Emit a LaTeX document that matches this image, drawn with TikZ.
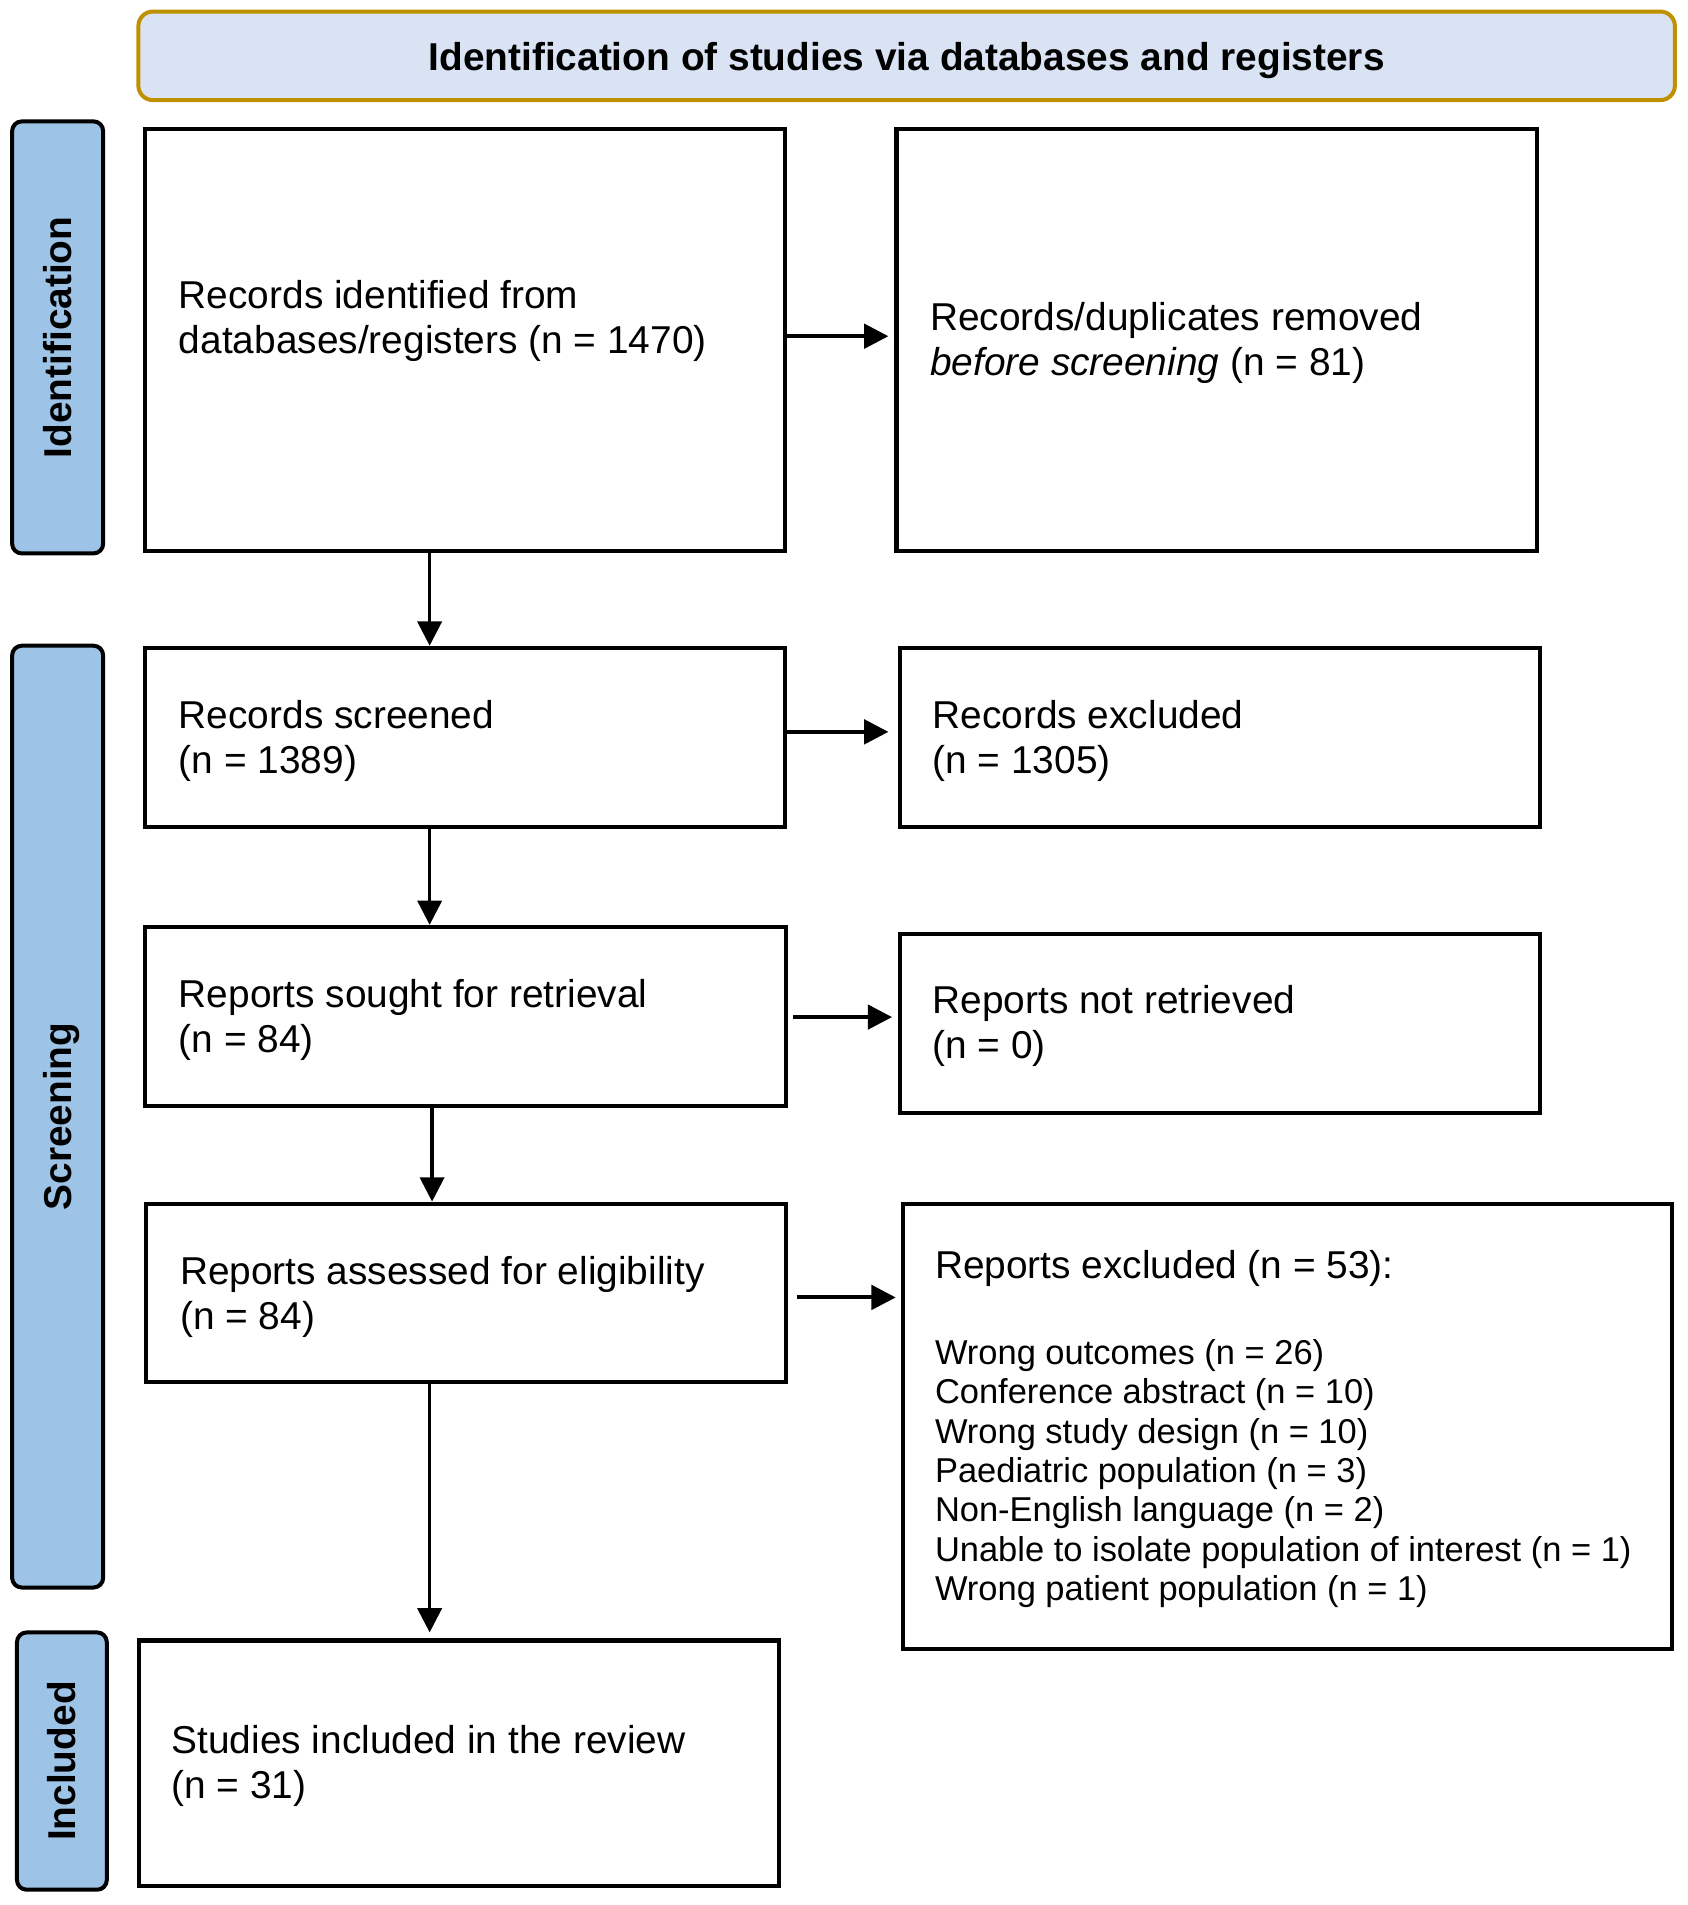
\documentclass[tikz,border=0pt]{standalone}
\usepackage{fontspec}
\setmainfont{Liberation Sans}
\usetikzlibrary{arrows.meta}
\definecolor{titlefill}{RGB}{218,227,243}
\definecolor{titledraw}{RGB}{191,144,0}
\definecolor{sidefill}{RGB}{157,195,230}
\begin{document}
\begin{tikzpicture}[x=0.5pt,y=-0.5pt,
  box/.style={draw, line width=1.65pt, inner sep=0pt, anchor=north west},
  sidebox/.style={draw, fill=sidefill, line width=1.65pt, rounded corners=4pt, inner sep=0pt, rotate=90,
    font=\fontsize{16}{18.5}\selectfont\bfseries, text height=11.5pt, text depth=0pt},
  titlebox/.style={draw=titledraw, fill=titlefill, line width=1.65pt, rounded corners=6pt, inner sep=0pt,
    font=\fontsize{16}{18.5}\selectfont\bfseries, text height=12pt, text depth=0pt},
  txt/.style={anchor=base west, inner sep=0pt, font=\fontsize{16}{18.5}\selectfont},
  smalltxt/.style={anchor=base west, inner sep=0pt, font=\fontsize{14.2}{16.25}\selectfont},
  harrow/.style={-{Triangle[length=10pt,width=10pt]}, line width=1.65pt},
  varrow/.style={-{Triangle[length=10pt,width=10pt]}, line width=1.3pt}
]
\useasboundingbox (0,0) rectangle (1390,1569.6);

% title
\node[titlebox, minimum width=633pt, minimum height=36.5pt] (title) at (747,46)
  {Identification of studies via databases and registers};

% side labels
\node[sidebox, minimum width=178pt, minimum height=37.5pt] (sideid) at (47.5,278) {Identification};
\node[sidebox, minimum width=388pt, minimum height=37.5pt] (sidesc) at (47.5,920) {Screening};
\node[sidebox, minimum width=106pt, minimum height=37pt] (sidein) at (51,1451) {Included};

% boxes
\node[box, minimum width=263.5pt, minimum height=173.5pt] (b1) at (118,105) {};
\node[box, minimum width=264pt, minimum height=173.5pt] (b2) at (737,105) {};
\node[box, minimum width=263.5pt, minimum height=74pt] (b3) at (118,532) {};
\node[box, minimum width=263.5pt, minimum height=74pt] (b4) at (740,532) {};
\node[box, minimum width=264pt, minimum height=74pt] (b5) at (118,762) {};
\node[box, minimum width=263.5pt, minimum height=73.5pt] (b6) at (740,768) {};
\node[box, minimum width=263.5pt, minimum height=73.5pt] (b7) at (119,990) {};
\node[box, minimum width=317pt, minimum height=183.5pt] (b8) at (742,990) {};
\node[box, minimum width=263.5pt, minimum height=101pt] (b9) at (113,1350) {};

% texts
\node[txt] (t1) at (147,254) {\parbox[t]{300pt}{Records identified from\\databases/registers (n = 1470)}};
\node[txt] (t2) at (766,272) {\parbox[t]{300pt}{Records/duplicates removed\\\textit{before screening} (n = 81)}};
\node[txt] (t3) at (147,600) {\parbox[t]{300pt}{Records screened\\(n = 1389)}};
\node[txt] (t4) at (768,600) {\parbox[t]{300pt}{Records excluded\\(n = 1305)}};
\node[txt] (t5) at (147,830) {\parbox[t]{300pt}{Reports sought for retrieval\\(n = 84)}};
\node[txt] (t6) at (768,835) {\parbox[t]{300pt}{Reports not retrieved\\(n = 0)}};
\node[txt] (t7) at (148,1058) {\parbox[t]{300pt}{Reports assessed for eligibility\\(n = 84)}};
\node[txt] (t8) at (770,1053) {Reports excluded (n = 53):};
\node[smalltxt] (t8b) at (770,1124) {\parbox[t]{310pt}{Wrong outcomes (n = 26)\\Conference abstract (n = 10)\\Wrong study design (n = 10)\\Paediatric population (n = 3)\\Non-English language (n = 2)\\Unable to isolate population of interest (n = 1)\\Wrong patient population (n = 1)}};
\node[txt] (t9) at (141,1445) {\parbox[t]{300pt}{Studies included in the review\\(n = 31)}};

% helper coordinates
\coordinate (h1) at (0,277);
\coordinate (h2) at (0,603);
\coordinate (h3) at (0,838);
\coordinate (h4) at (0,1069);
\coordinate (vx) at (354,0);
\coordinate (vx2) at (356,0);

% horizontal arrows
\draw[harrow, shorten >=2.5pt] (b1.east |- h1) -- (b2.west |- h1);
\draw[harrow, shorten >=4pt] (b3.east |- h2) -- (b4.west |- h2);
\draw[harrow, shorten <=2pt, shorten >=2.5pt] (b5.east |- h3) -- (b6.west |- h3);
\draw[harrow, shorten <=3.5pt, shorten >=2pt] (b7.east |- h4) -- (b8.west |- h4);

% vertical arrows
\draw[varrow] (b1.south -| vx) -- (b3.north -| vx);
\draw[varrow] (b3.south -| vx) -- (b5.north -| vx);
\draw[varrow] (b5.south -| vx2) -- (b7.north -| vx2);
\draw[varrow, shorten >=2.5pt] (b7.south -| vx) -- (b9.north -| vx);
\end{tikzpicture}
\end{document}
